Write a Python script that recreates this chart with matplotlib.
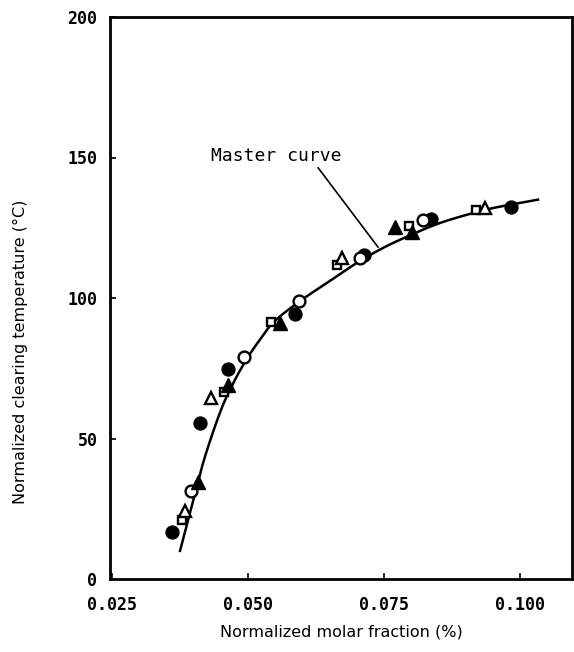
import matplotlib
matplotlib.use("Agg")
import matplotlib.pyplot as plt
import numpy as np

# Data
fc_x = [0.0360, 0.0412, 0.0463, 0.0586, 0.0713, 0.0836, 0.0983]   # filled circles
fc_y = [16.7, 55.5, 74.7, 94.3, 115.3, 128.1, 132.4]
oc_x = [0.0395, 0.0493, 0.0594, 0.0706, 0.0822]                   # open circles
oc_y = [31.3, 79.0, 98.9, 114.2, 127.8]
os_x = [0.0379, 0.0456, 0.0542, 0.0664, 0.0796, 0.0919]           # open squares
os_y = [21.0, 66.5, 91.5, 111.7, 125.6, 131.3]
ot_x = [0.0384, 0.0432, 0.0673, 0.0936]                           # open triangles
ot_y = [24.2, 64.4, 114.2, 132.0]
ft_x = [0.0408, 0.0463, 0.0559, 0.0770, 0.0801]                   # filled triangles
ft_y = [34.5, 69.0, 91.1, 125.3, 123.5]

curve_x = [0.0375, 0.0390, 0.0400, 0.0420, 0.0450, 0.0475, 0.0500, 0.0525, 0.0550,
           0.0600, 0.0650, 0.0700, 0.0750, 0.0800, 0.0850, 0.0900, 0.0950, 0.1033]
curve_y = [10, 21, 28.5, 43, 60, 70.5, 79, 86, 92,
           99.5, 106, 112.5, 118, 122.5, 126.5, 129.5, 132, 135]

x_ticks = [0.025, 0.050, 0.075, 0.100]
x_ticklabels = ["0.025", "0.050", "0.075", "0.100"]
y_ticks = [0, 50, 100, 150, 200]
y_ticklabels = ["0", "50", "100", "150", "200"]


def catmull_rom(xs, ys, n=20):
    P = np.column_stack([xs, ys]).astype(float)
    P = np.vstack([2 * P[0] - P[1], P, 2 * P[-1] - P[-2]])
    out = []
    t = np.linspace(0, 1, n, endpoint=False)[:, None]
    for i in range(1, len(P) - 2):
        p0, p1, p2, p3 = P[i - 1], P[i], P[i + 1], P[i + 2]
        seg = 0.5 * ((2 * p1) + (-p0 + p2) * t + (2 * p0 - 5 * p1 + 4 * p2 - p3) * t ** 2
                     + (-p0 + 3 * p1 - 3 * p2 + p3) * t ** 3)
        out.append(seg)
    out.append(P[-2][None, :])
    out = np.vstack(out)
    return out[:, 0], out[:, 1]


fig = plt.figure(figsize=(5.74, 6.52), dpi=100)
ax = fig.add_axes([110/574, 73/652, 462/574, 562/652])

sx = 1000.0
cx, cy = catmull_rom(np.array(curve_x) * sx, curve_y)
ax.plot(cx / sx, cy, color="black", lw=1.8, zorder=1)

ms = 9.3
ax.plot(fc_x, fc_y, "o", ms=ms, color="black", zorder=3)
ax.plot(oc_x, oc_y, "o", ms=ms-0.8, mfc="white", mec="black", mew=1.7, zorder=3)
ax.plot(os_x, os_y, "s", ms=ms-3, mfc="white", mec="black", mew=1.7, zorder=3)
ax.plot(ot_x, ot_y, "^", ms=ms, mfc="white", mec="black", mew=1.7, zorder=3)
ax.plot(ft_x, ft_y, "^", ms=ms+0.5, color="black", zorder=3)

ax.set_xlim(0.02463, 0.10955)
ax.set_ylim(0, 200)
ax.set_xticks(x_ticks)
ax.set_xticklabels(x_ticklabels, family="DejaVu Sans Mono", fontsize=12, weight="bold")
ax.set_yticks(y_ticks)
ax.set_yticklabels(y_ticklabels, family="DejaVu Sans Mono", fontsize=12, weight="bold")
ax.tick_params(direction="in", length=4, width=1.2)
ax.tick_params(axis="x", pad=12)
ax.tick_params(axis="y", pad=9)

for s in ax.spines.values():
    s.set_linewidth(2.0)

ax.set_xlabel("Normalized molar fraction (%)", fontsize=11.5, labelpad=8)
ax.set_ylabel("Normalized clearing temperature (°C)", fontsize=11.5)
ax.yaxis.set_label_coords(-0.178, 0.405)

ax.text(0.0551, 150.5, "Master curve", family="DejaVu Sans Mono", fontsize=13,
        ha="center", va="center")
ax.plot([0.0629, 0.0739], [146.3, 118.1], color="black", lw=1.2)

fig.savefig("out.png", dpi=100)
